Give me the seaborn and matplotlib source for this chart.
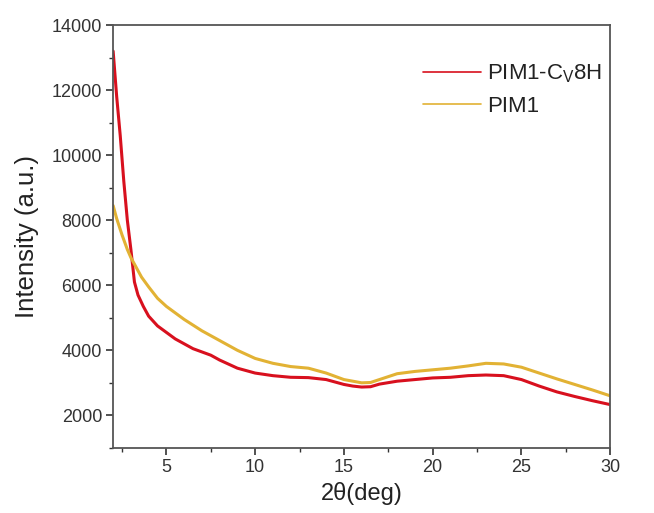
import numpy as np
import pandas as pd
import matplotlib
matplotlib.use("Agg")
import matplotlib.pyplot as plt
import seaborn as sns
from matplotlib.ticker import MultipleLocator

red_x = [2.0, 2.2, 2.4, 2.6, 2.8, 3.0, 3.2, 3.4, 3.7, 4.0, 4.5, 5.0, 5.5, 6.0, 6.5, 7.0, 7.5,
         8, 9, 10, 11, 12, 13, 14, 15, 15.5, 16, 16.5, 17, 18, 19, 20, 21, 22, 23, 24, 25,
         26, 27, 28, 29, 30]
red_y = [13200, 11800, 10600, 9200, 8000, 7100, 6100, 5700, 5350, 5050, 4750, 4550, 4350,
         4200, 4050, 3950, 3850, 3700, 3450, 3300, 3220, 3170, 3160, 3100, 2950, 2900, 2870,
         2880, 2960, 3050, 3100, 3150, 3170, 3220, 3240, 3220, 3100, 2900, 2720, 2580, 2450,
         2330]

yel_x = [2.0, 2.2, 2.5, 2.8, 3.0, 3.3, 3.6, 4.0, 4.5, 5.0, 5.5, 6.0, 7.0, 8.0, 9.0, 10, 11,
         12, 13, 14, 15, 16, 16.5, 17, 18, 19, 20, 21, 22, 23, 24, 25, 26, 27, 28, 29, 30]
yel_y = [8450, 8050, 7550, 7100, 6850, 6550, 6250, 5950, 5600, 5350, 5150, 4950, 4600, 4300,
         4000, 3750, 3600, 3500, 3450, 3300, 3100, 3000, 3010, 3100, 3280, 3350, 3400, 3450,
         3520, 3600, 3580, 3480, 3300, 3120, 2950, 2780, 2600]

labels = ["PIM1-C$_\\mathrm{V}$8H", "PIM1"]
colors = ["#d8101e", "#e2b234"]

df = pd.concat([
    pd.DataFrame({"x": red_x, "y": red_y, "sample": labels[0]}),
    pd.DataFrame({"x": yel_x, "y": yel_y, "sample": labels[1]}),
])

sns.set_style("ticks")
plt.rcParams["font.family"] = ["Liberation Sans", "DejaVu Sans"]
plt.rcParams["mathtext.fontset"] = "custom"
plt.rcParams["mathtext.rm"] = "Liberation Sans"

fig = plt.figure(figsize=(6.54, 5.13), dpi=100)
ax = fig.add_axes([0.173, 0.127, 0.760, 0.824])

sns.lineplot(data=df, x="x", y="y", hue="sample", palette=colors, ax=ax,
             linewidth=2.2, sort=True, estimator=None)

ax.set_xlim(2, 30)
ax.set_ylim(1000, 14000)
ax.xaxis.set_major_locator(MultipleLocator(5))
ax.xaxis.set_minor_locator(MultipleLocator(2.5))
ax.yaxis.set_minor_locator(MultipleLocator(1000))
ax.set_yticks([2000, 4000, 6000, 8000, 10000, 12000, 14000])
ax.tick_params(axis="both", which="major", direction="out", length=5, width=1.2,
               labelsize=13, colors="#333333", pad=3)
ax.tick_params(axis="both", which="minor", direction="out", length=3, width=1.0,
               colors="#333333")
ax.tick_params(labelcolor="#333333")
for s in ax.spines.values():
    s.set_color("#555555")
    s.set_linewidth(1.3)

ax.set_xlabel("2θ(deg)", fontsize=17, color="#222222", labelpad=4)
ax.set_ylabel("Intensity (a.u.)", fontsize=18.5, color="#222222", labelpad=9)

leg = ax.legend(frameon=False, loc="upper left", bbox_to_anchor=(0.605, 0.933),
                fontsize=16, handlelength=2.6, labelspacing=0.5, handletextpad=0.3,
                borderaxespad=0)
for t in leg.get_texts():
    t.set_color("#222222")
for h in leg.get_lines():
    h.set_linewidth(1.2)

fig.savefig("out.png", dpi=100)
